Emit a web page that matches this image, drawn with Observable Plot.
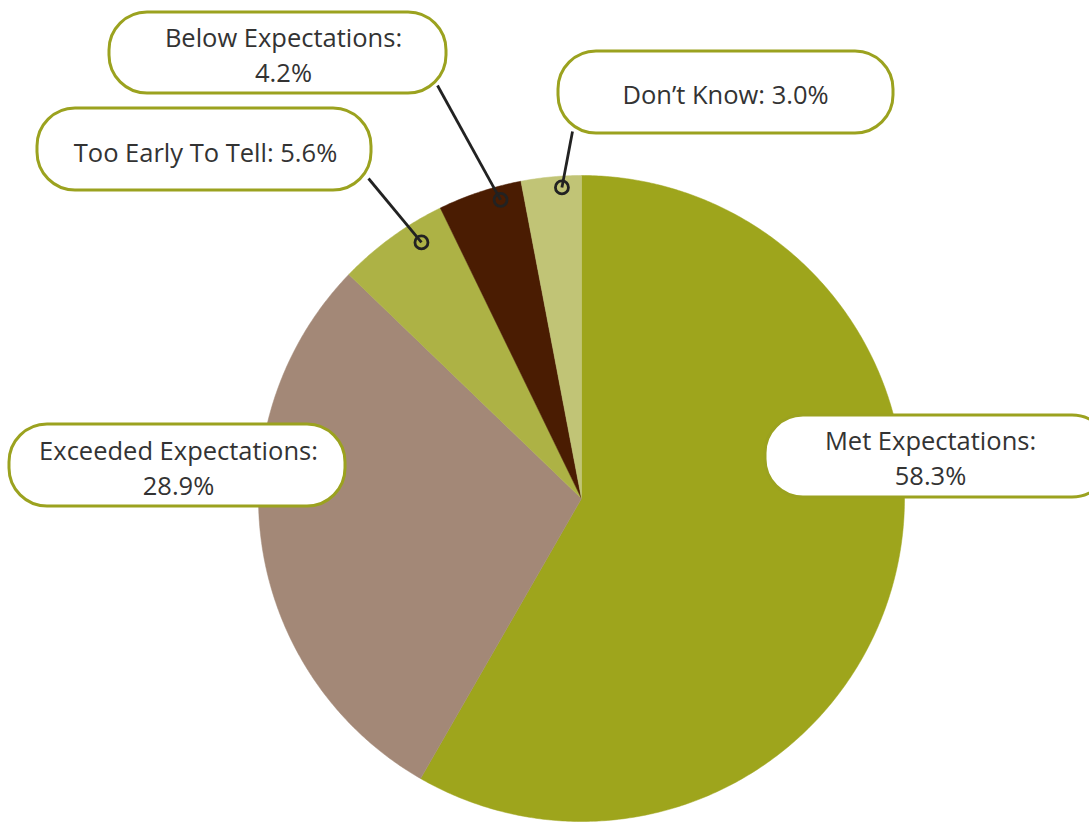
<!DOCTYPE html>
<html>
<head>
<meta charset="utf-8">
<script src="https://cdn.jsdelivr.net/npm/d3@7"></script>
<script src="https://cdn.jsdelivr.net/npm/@observablehq/plot@0.6"></script>
<style>
  html, body { margin: 0; padding: 0; background: #fff; }
  #chart { width: 1089px; height: 822px; overflow: hidden; }
</style>
</head>
<body>
<div id="chart"></div>
<script>
// ---- data ----
const categories = ["Met Expectations", "Exceeded Expectations", "Too Early To Tell", "Below Expectations", "Don\u2019t Know"];
const values = [58.3, 28.9, 5.6, 4.2, 3.0];
const colors = ["#9ea51c", "#a38877", "#adb245", "#4a1c02", "#c1c476"];
const twoLine = [true, true, false, true, false];

// ---- layout (pixel units) ----
const W = 1089, H = 822;
const pie = {cx: 581, cy: 498, r: 323};
// label boxes: [x1, x2, y1, y2, textX, textY]
const boxes = [
  [765, 1110, 415, 497, 930, 459],
  [9, 345, 424, 506, 178, 469],
  [37, 371, 108, 190, 205, 153],
  [109, 446, 12, 93, 283, 56],
  [558, 893, 51, 133, 725, 95]
];
const halfGap = 17.5; // half the spacing between the two lines of a label
// leader: box end point + dot angle offset (deg) + dot radius fraction
const leaders = [
  null, null,
  {x: 368, y: 178, dA: 4, rf: 0.935},
  {x: 437, y: 85, dA: 3.2, rf: 0.958},
  {x: 572, y: 131, dA: 1.8, rf: 0.965}
];

const total = d3.sum(values);
let acc = 0;
const slices = categories.map((c, i) => {
  const a0 = acc / total * 360;
  acc += values[i];
  const a1 = acc / total * 360;
  return {category: c, value: values[i], color: colors[i], a0, a1, mid: (a0 + a1) / 2, i};
});

const pol = (deg, rr) => {
  const t = deg * Math.PI / 180;
  return [pie.cx + rr * Math.sin(t), pie.cy - rr * Math.cos(t)];
};

// polygon points for each slice
const polys = slices.map(s => {
  const pts = [{x: pie.cx, y: pie.cy}];
  const n = Math.max(2, Math.ceil((s.a1 - s.a0) * 2));
  for (let k = 0; k <= n; k++) {
    const [x, y] = pol(s.a0 + (s.a1 - s.a0) * k / n, pie.r);
    pts.push({x, y});
  }
  pts.push({x: pie.cx, y: pie.cy});
  return pts;
});

const boxData = slices.map((s, i) => {
  const b = boxes[i];
  return {x1: b[0], x2: b[1], y1: b[2], y2: b[3]};
});
const textLines = [];
slices.forEach((s, i) => {
  const b = boxes[i];
  const pct = s.value.toFixed(1) + "%";
  if (twoLine[i]) {
    textLines.push({x: b[4], y: b[5] - halfGap, text: s.category + ":"});
    textLines.push({x: b[4], y: b[5] + halfGap, text: pct});
  } else {
    textLines.push({x: b[4], y: b[5], text: s.category + ": " + pct});
  }
});

const links = [];
const dots = [];
slices.forEach((s, i) => {
  const l = leaders[i];
  if (!l) return;
  const [dx, dy] = pol(s.mid + l.dA, pie.r * l.rf);
  links.push({x1: l.x, y1: l.y, x2: dx, y2: dy});
  dots.push({x: dx, y: dy});
});

const marks = [];
polys.forEach((pts, i) => {
  marks.push(Plot.line(pts, {x: "x", y: "y", fill: slices[i].color, stroke: slices[i].color, strokeWidth: 0.5, curve: "linear"}));
});
marks.push(Plot.link(links, {x1: "x1", y1: "y1", x2: "x2", y2: "y2", stroke: "#222", strokeWidth: 2.8}));
marks.push(Plot.dot(dots, {x: "x", y: "y", r: 6.5, stroke: "#222", strokeWidth: 2.8, fill: "none"}));
marks.push(Plot.rect(boxData, {x1: "x1", x2: "x2", y1: "y1", y2: "y2", fill: "white", stroke: "#9ba21f", strokeWidth: 3, rx: 38, ry: 38}));
marks.push(Plot.text(textLines, {x: "x", y: "y", text: "text", fontSize: 25.5, fontWeight: 400, fill: "#333", fontFamily: "'Open Sans'", textAnchor: "middle", lineAnchor: "middle"}));

const chart = Plot.plot({
  width: W, height: H,
  margin: 0,
  x: {domain: [0, W], range: [0, W], axis: null},
  y: {domain: [0, H], range: [0, H], axis: null},
  style: {background: "white", fontFamily: "'Open Sans'"},
  marks
});
document.getElementById("chart").appendChild(chart);
</script>
</body>
</html>
